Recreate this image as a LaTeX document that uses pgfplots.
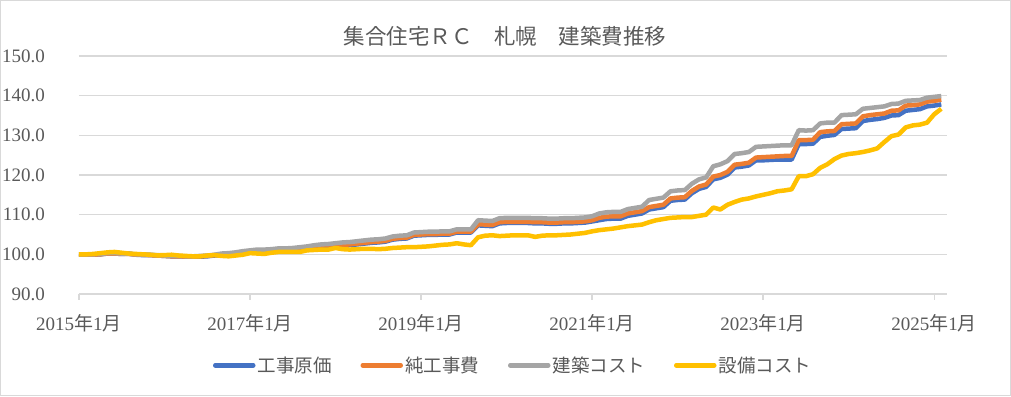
\documentclass[border=0pt]{standalone}
\usepackage{pgfplots}
\pgfplotsset{compat=1.18}
\usepackage{pgfplotstable}
\usepackage{fontspec}
\setmainfont{Liberation Serif}
\newfontfamily\cjk{Noto Sans CJK JP}
\definecolor{cblue}{HTML}{4472C4}
\definecolor{corange}{HTML}{ED7D31}
\definecolor{cgray}{HTML}{A5A5A5}
\definecolor{cyellow}{HTML}{FFC000}
\definecolor{gridc}{HTML}{D9D9D9}
\definecolor{txt}{HTML}{595959}
\pgfplotstableread{
m G O B Y
0 100.0 100.0 100.0 100.0
1 100.0 99.9 99.9 100.0
2 100.0 99.9 99.9 100.1
3 100.1 100.0 100.0 100.3
4 100.3 100.2 100.2 100.5
5 100.3 100.2 100.2 100.6
6 100.2 100.1 100.1 100.4
7 100.1 100.1 100.2 100.2
8 100.0 99.9 99.9 100.1
9 100.0 99.9 99.8 100.0
10 99.9 99.8 99.8 99.9
11 99.8 99.7 99.7 99.75
12 99.7 99.6 99.6 99.8
13 99.6 99.5 99.5 99.9
14 99.6 99.5 99.5 99.7
15 99.5 99.4 99.4 99.6
16 99.5 99.4 99.4 99.5
17 99.6 99.5 99.4 99.5
18 99.7 99.6 99.5 99.7
19 99.9 99.8 99.7 99.8
20 100.2 99.9 99.8 99.6
21 100.3 100.0 99.9 99.5
22 100.5 100.2 100.1 99.7
23 100.8 100.5 100.4 99.9
24 101.0 100.7 100.6 100.3
25 101.2 100.9 100.8 100.2
26 101.2 100.9 100.8 100.1
27 101.3 101.0 100.9 100.4
28 101.5 101.2 101.1 100.6
29 101.5 101.2 101.1 100.6
30 101.6 101.3 101.2 100.6
31 101.8 101.5 101.4 100.6
32 102.0 101.7 101.6 101.0
33 102.3 102.0 101.9 101.1
34 102.5 102.2 102.1 101.2
35 102.6 102.3 102.2 101.2
36 102.8 102.2 102.0 101.6
37 103.0 102.4 102.2 101.3
38 103.1 102.5 102.3 101.2
39 103.3 102.7 102.5 101.3
40 103.5 102.9 102.7 101.4
41 103.7 103.1 102.9 101.4
42 103.8 103.2 103.0 101.3
43 104.0 103.4 103.2 101.4
44 104.5 103.9 103.7 101.6
45 104.7 104.1 103.9 101.7
46 104.8 104.2 104.0 101.8
47 105.5 104.9 104.7 101.8
48 105.6 105.0 104.8 101.9
49 105.7 105.1 104.9 102.0
50 105.7 105.1 104.9 102.2
51 105.8 105.2 105.0 102.4
52 105.8 105.2 105.0 102.5
53 106.3 105.7 105.5 102.8
54 106.3 105.7 105.5 102.5
55 106.3 105.7 105.5 102.3
56 108.6 107.6 107.3 104.3
57 108.5 107.5 107.2 104.7
58 108.4 107.4 107.1 104.8
59 109.1 108.1 107.8 104.6
60 109.2 108.2 107.9 104.7
61 109.2 108.2 107.9 104.8
62 109.2 108.2 107.9 104.8
63 109.2 108.2 107.9 104.8
64 109.1 108.1 107.8 104.4
65 109.1 108.1 107.8 104.7
66 109.0 108.0 107.7 104.8
67 109.0 108.0 107.7 104.8
68 109.1 108.1 107.8 104.9
69 109.1 108.1 107.8 105.0
70 109.2 108.2 107.9 105.2
71 109.3 108.3 108.0 105.4
72 109.6 108.6 108.3 105.8
73 110.3 109.2 108.6 106.1
74 110.6 109.5 108.9 106.3
75 110.7 109.6 109.0 106.5
76 110.7 109.6 109.0 106.8
77 111.4 110.3 109.7 107.1
78 111.7 110.6 110.0 107.3
79 112.0 110.9 110.3 107.5
80 113.7 111.9 111.3 108.1
81 114.0 112.2 111.6 108.6
82 114.3 112.5 111.9 108.9
83 115.9 114.1 113.5 109.2
84 116.1 114.3 113.7 109.3
85 116.2 114.4 113.8 109.4
86 117.8 116.0 115.4 109.4
87 118.9 117.1 116.5 109.7
88 119.4 117.6 117.0 110.0
89 122.2 119.6 118.9 111.8
90 122.7 120.0 119.3 111.3
91 123.5 120.8 120.1 112.5
92 125.3 122.6 121.9 113.2
93 125.5 122.8 122.1 113.8
94 125.8 123.1 122.4 114.1
95 127.1 124.4 123.7 114.6
96 127.2 124.5 123.7 115.0
97 127.3 124.6 123.8 115.4
98 127.4 124.7 123.9 115.9
99 127.5 124.8 123.9 116.1
100 127.5 124.8 123.9 116.4
101 131.3 128.8 127.8 119.7
102 131.2 128.8 127.8 119.7
103 131.3 128.9 127.9 120.2
104 133.0 130.8 129.6 121.8
105 133.2 131.0 129.9 122.7
106 133.2 131.1 130.1 124.0
107 135.1 132.8 131.6 124.9
108 135.2 132.9 131.7 125.3
109 135.3 133.0 131.8 125.5
110 136.7 134.8 133.6 125.8
111 136.9 135.1 133.9 126.2
112 137.1 135.3 134.1 126.7
113 137.3 135.5 134.4 128.3
114 137.9 136.2 135.0 129.8
115 138.0 136.3 135.1 130.2
116 138.7 137.5 136.2 132.0
117 138.8 137.6 136.4 132.5
118 138.9 137.8 136.6 132.7
119 139.5 138.5 137.3 133.2
120 139.7 138.7 137.5 135.3
121 139.9 139.0 137.8 136.7
}\datatable
\begin{document}
\begin{tikzpicture}[x=1pt,y=1pt]
\useasboundingbox (0,0) rectangle (1011,396);
\draw[gridc, line width=1pt] (0.5,0.5) rectangle (1010.5,395.5);
\node[txt, anchor=center, inner sep=0pt] at (505,360) {\fontsize{21.5}{24}\selectfont\cjk 集合住宅ＲＣ　札幌　建築費推移};
\begin{axis}[
  at={(79pt,102pt)}, anchor=south west,
  scale only axis, width=868pt, height=238pt,
  xmin=0, xmax=121.8, ymin=90, ymax=150,
  ytick={90,100,...,150},
  xtick={0,24,48,72,96,120},
  xticklabels={2015{\cjk 年}1{\cjk 月},2017{\cjk 年}1{\cjk 月},2019{\cjk 年}1{\cjk 月},2021{\cjk 年}1{\cjk 月},2023{\cjk 年}1{\cjk 月},2025{\cjk 年}1{\cjk 月}},
  ymajorgrids, grid style={gridc, line width=1.3pt},
  axis x line*=bottom, axis y line*=left,
  x axis line style={gridc, line width=1.3pt, -},
  y axis line style={draw=none},
  ytick style={draw=none},
  xtick style={draw=gridc, line width=1.3pt},
  tick align=outside, major tick length=6pt,
  /pgf/number format/assume math mode=true,
  yticklabel style={/pgf/number format/fixed, /pgf/number format/fixed zerofill, /pgf/number format/precision=1, txt, font=\fontsize{19}{20}\selectfont, anchor=east, inner sep=0pt, xshift=-28pt},
  xticklabel style={txt, font=\fontsize{19}{20}\selectfont, anchor=north, inner sep=0pt, yshift=-14pt},
  legend columns=4,
  legend style={at={(0.5,-0.3)}, anchor=center, draw=none, fill=none, font=\fontsize{18.5}{20}\selectfont\cjk, text=txt,
    /tikz/every even column/.append style={column sep=27pt}, inner sep=0pt},
  legend image code/.code={\draw[#1, line cap=round] (0pt,0pt) -- (38pt,0pt);},
  every axis plot/.append style={line width=4.5pt, line join=round},
]
\addplot[cblue, no marks] table[x=m, y=B] {\datatable};
\addlegendentry{工事原価}
\addplot[corange, no marks] table[x=m, y=O] {\datatable};
\addlegendentry{純工事費}
\addplot[cgray, no marks] table[x=m, y=G] {\datatable};
\addlegendentry{建築コスト}
\addplot[cyellow, no marks] table[x=m, y=Y] {\datatable};
\addlegendentry{設備コスト}
\end{axis}
\end{tikzpicture}
\end{document}
